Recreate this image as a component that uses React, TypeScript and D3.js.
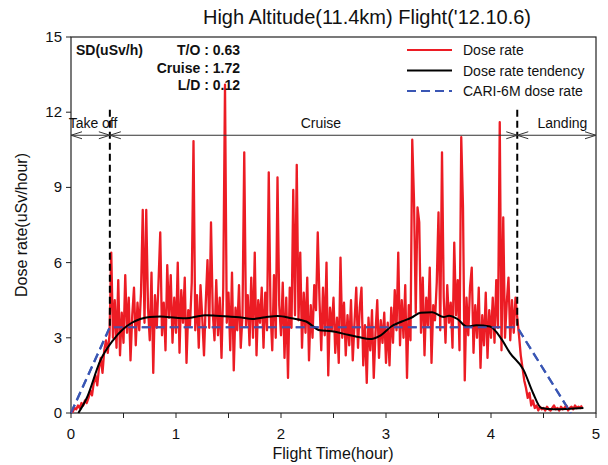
import React from "react";
import * as d3 from "d3";

// Dose rate sampled every minute (uSv/h)
const doseRate: number[] = [
  0.1, 0.05, 0.2, 0.15, 0.3, 0.2, 0.4, 0.3, 0.5, 0.4,
  0.6, 0.9, 0.7, 1.2, 1.5, 1.1, 1.8, 2.2, 1.6, 2.5,
  2.9, 2.4, 3.1, 6.4, 3.0, 4.5, 2.6, 5.3, 2.3, 4.0,
  2.8, 5.5, 3.2, 4.6, 2.1, 3.9, 5.0, 2.7, 4.4, 3.3,
  4.8, 8.1, 3.6, 8.1, 4.2, 2.9, 5.6, 1.6, 4.7, 3.4,
  5.2, 7.2, 3.1, 4.4, 2.5, 5.9, 3.8, 5.5, 2.8, 4.6,
  3.2, 6.0, 2.4, 4.9, 3.6, 5.4, 2.0, 4.1, 3.5, 5.2,
  10.85, 3.3, 4.7, 2.6, 5.1, 3.8, 2.3, 4.4, 6.1, 3.4,
  7.6, 4.0, 2.9, 5.3, 3.1, 4.6, 2.2, 5.0, 13.1, 3.6,
  4.8, 2.5, 5.6, 1.7, 4.2, 3.3, 5.1, 2.6, 3.9, 10.4,
  3.5, 4.7, 2.7, 5.4, 3.0, 6.4, 2.3, 4.5, 3.6, 5.0,
  2.6, 4.8, 3.3, 9.6, 4.1, 2.5, 5.5, 3.0, 9.4, 4.3,
  3.1, 5.2, 2.2, 4.6, 1.4, 5.0, 3.4, 8.9, 3.9, 9.9,
  3.7, 6.4, 2.6, 4.8, 3.2, 5.4, 2.1, 4.3, 3.0, 5.1,
  4.1, 7.2, 4.5, 2.5, 5.0, 3.1, 6.0, 1.5, 4.2, 3.3,
  4.6, 2.4, 3.8, 2.0, 6.2, 3.0, 4.4, 2.3, 3.9, 2.7,
  4.5, 2.1, 3.6, 5.0, 2.6, 4.2, 5.0, 1.9, 3.5, 1.2,
  3.8, 2.5, 4.1, 1.4, 3.2, 4.5, 2.2, 3.7, 2.8, 4.0,
  2.0, 3.6, 1.9, 4.2, 2.8, 4.9, 3.3, 6.4, 2.7, 4.5,
  3.0, 5.1, 1.4, 4.3, 2.9, 10.9, 8.5, 4.0, 8.2, 7.6,
  3.2, 5.4, 2.3, 4.6, 3.5, 5.8, 2.0, 4.3, 3.7, 5.2,
  8.0, 3.3, 10.4, 4.6, 2.8, 5.1, 3.6, 4.4, 2.6, 6.8,
  3.9, 5.3, 2.5, 11.0, 8.2, 1.3, 4.6, 3.1, 5.0, 5.8,
  2.4, 4.3, 3.0, 5.0, 1.8, 3.9, 2.7, 4.8, 2.2, 4.1,
  3.0, 4.6, 2.8, 5.3, 3.4, 11.6, 2.5, 7.8, 3.0, 4.4,
  5.4, 2.9, 4.5, 3.2, 4.6, 3.8, 3.1, 2.3, 1.8, 1.3,
  1.0, 0.6, 0.8, 0.3, 0.5, 0.2, 0.3, 0.1, 0.25, 0.15,
  0.2, 0.1, 0.25, 0.15, 0.1, 0.2, 0.3, 0.15, 0.2, 0.1,
  0.25, 0.15, 0.2, 0.3, 0.1, 0.2, 0.25, 0.15, 0.3, 0.2,
  0.25, 0.2, 0.3,
];

// Dose rate tendency (hour, uSv/h)
const tendencyHours: number[] = [
  0.07, 0.15, 0.28, 0.4, 0.5, 0.58, 0.66, 0.75, 0.85, 1.0, 1.1, 1.2, 1.28, 1.38,
  1.5, 1.6, 1.73, 1.85, 1.97, 2.1, 2.24, 2.37, 2.48, 2.64, 2.75, 2.84, 2.95, 3.05,
  3.15, 3.24, 3.33, 3.44, 3.55, 3.6, 3.68, 3.77, 3.86, 3.99, 4.1, 4.18, 4.31, 4.4,
  4.48, 4.6, 4.88,
];
const tendencyValues: number[] = [
  0, 0.6, 2.1, 2.9, 3.36, 3.6, 3.75, 3.83, 3.85, 3.8, 3.78, 3.85, 3.9, 3.88,
  3.85, 3.82, 3.75, 3.82, 3.87, 3.78, 3.65, 3.3, 3.26, 3.12, 3.02, 2.95, 3.1, 3.45,
  3.65, 3.8, 4.0, 4.02, 3.83, 3.88, 3.75, 3.45, 3.5, 3.45, 2.95, 2.4, 1.72, 0.8,
  0.2, 0.15, 0.2,
];

// CARI-6M dose rate
const cariHours: number[] = [0, 0.37, 4.25, 4.76];
const cariValues: number[] = [0, 3.42, 3.42, 0];

// Phase boundaries (hour)
const phaseBounds: number[] = [0, 0.37, 4.25, 5];
const phaseLabels: string[] = ["Take off", "Cruise", "Landing"];

const xMajorTicks: number[] = [0, 1, 2, 3, 4, 5];
const xMinorTicks: number[] = [0.5, 1.5, 2.5, 3.5, 4.5];
const yTicks: number[] = [0, 3, 6, 9, 12, 15];

const sdLabels: string[] = ["T/O : 0.63", "Cruise : 1.72", "L/D : 0.12"];
const legendLabels: string[] = ["Dose rate", "Dose rate tendency", "CARI-6M dose rate"];

const W = 608;
const H = 465;
const L = 71, R = 596, T = 37, B = 413;
const FONT = "'Liberation Sans', Arial, sans-serif";
const RED = "#ec1c24";
const BLUE = "#3a56b4";

export default function App() {
  const x = d3.scaleLinear().domain([0, 5]).range([L, R]);
  const y = d3.scaleLinear().domain([0, 15]).range([B, T]);

  const redLine = d3
    .line<number>()
    .x((_, i) => x(i / 60))
    .y((d) => y(d));
  const tendLine = d3
    .line<number>()
    .x((_, i) => x(tendencyHours[i]))
    .y((d) => y(d))
    .curve(d3.curveMonotoneX);
  const cariLine = d3
    .line<number>()
    .x((_, i) => x(cariHours[i]))
    .y((d) => y(d));

  const arrowY = y(11.08);
  const dashTop = y(12.1);
  const plateau = y(cariValues[1]);

  const arrowHead = (px: number, dir: number) =>
    `M${px - dir * 11},${arrowY - 3.5} L${px},${arrowY} L${px - dir * 11},${arrowY + 3.5}`;

  const labelX = [x(0.21), x(2.38), x(4.68)];

  return (
    <div style={{ position: "fixed", left: 0, top: 0 }}>
      <svg width={W} height={H} style={{ display: "block", background: "#fff" }} fontFamily={FONT}>
        <rect x={0} y={0} width={W} height={H} fill="#fff" />
        {/* title */}
        <text x={367} y={24} textAnchor="middle" fontSize={20} fill="#111">
          High Altitude(11.4km) Flight('12.10.6)
        </text>

        {/* frame */}
        <rect x={L} y={T} width={R - L} height={B - T} fill="none" stroke="#222" strokeWidth={1.2} />

        {/* CARI */}
        <path d={cariLine(cariValues) || ""} fill="none" stroke={BLUE} strokeWidth={2.2} strokeDasharray="9,5" />

        {/* red dose rate */}
        <path d={redLine(doseRate) || ""} fill="none" stroke={RED} strokeWidth={2.3} strokeLinejoin="round" />

        {/* tendency */}
        <path d={tendLine(tendencyValues) || ""} fill="none" stroke="#000" strokeWidth={2} />

        {/* CARI on top */}
        <path d={cariLine(cariValues) || ""} fill="none" stroke={BLUE} strokeWidth={2.2} strokeDasharray="9,5" opacity={0.9} />

        {/* phase dashed lines */}
        {[phaseBounds[1], phaseBounds[2]].map((h, i) => (
          <line key={i} x1={x(h)} x2={x(h)} y1={dashTop} y2={plateau} stroke="#000" strokeWidth={2} strokeDasharray="7,4" />
        ))}

        {/* arrow line */}
        <line x1={L} x2={R} y1={arrowY} y2={arrowY} stroke="#333" strokeWidth={1} />
        {phaseBounds.slice(0, 3).map((h, i) => (
          <g key={i}>
            <path d={arrowHead(x(h), -1)} fill="none" stroke="#333" strokeWidth={1} />
            <path d={arrowHead(x(phaseBounds[i + 1]), 1)} fill="none" stroke="#333" strokeWidth={1} />
          </g>
        ))}
        {phaseLabels.map((t, i) => (
          <text key={t} x={labelX[i]} y={128} textAnchor="middle" fontSize={14} fill="#111">
            {t}
          </text>
        ))}

        {/* SD text */}
        <text x={76} y={55} fontSize={14} fontWeight="bold" fill="#111">SD(uSv/h)</text>
        {sdLabels.map((t, i) => (
          <text key={t} x={240} y={55 + i * 17.5} textAnchor="end" fontSize={14} fontWeight="bold" fill="#111">
            {t}
          </text>
        ))}

        {/* legend */}
        {legendLabels.map((t, i) => {
          const ly = 50 + i * 20.5;
          return (
            <g key={t}>
              <line
                x1={407}
                x2={452}
                y1={ly}
                y2={ly}
                stroke={i === 0 ? RED : i === 1 ? "#000" : BLUE}
                strokeWidth={2}
                strokeDasharray={i === 2 ? "9,5" : undefined}
              />
              <text x={463} y={ly + 5} fontSize={14} fill="#111">{t}</text>
            </g>
          );
        })}

        {/* x axis ticks */}
        {xMajorTicks.map((v) => (
          <g key={v}>
            <line x1={x(v)} x2={x(v)} y1={B} y2={B + 5} stroke="#222" />
            <text x={x(v)} y={439} textAnchor="middle" fontSize={15} fill="#111">{v}</text>
          </g>
        ))}
        {xMinorTicks.map((v) => (
          <line key={v} x1={x(v)} x2={x(v)} y1={B} y2={B + 5} stroke="#222" />
        ))}
        {/* y axis ticks */}
        {yTicks.map((v) => (
          <g key={v}>
            <line x1={L - 5} x2={L} y1={y(v)} y2={y(v)} stroke="#222" />
            <text x={62} y={y(v) + 5} textAnchor="end" fontSize={15} fill="#111">{v}</text>
          </g>
        ))}

        {/* axis titles */}
        <text x={333} y={459} textAnchor="middle" fontSize={16} fill="#111">Flight Time(hour)</text>
        <text transform={`translate(27,225) rotate(-90)`} textAnchor="middle" fontSize={16} fill="#111">
          Dose rate(uSv/hour)
        </text>
      </svg>
    </div>
  );
}
